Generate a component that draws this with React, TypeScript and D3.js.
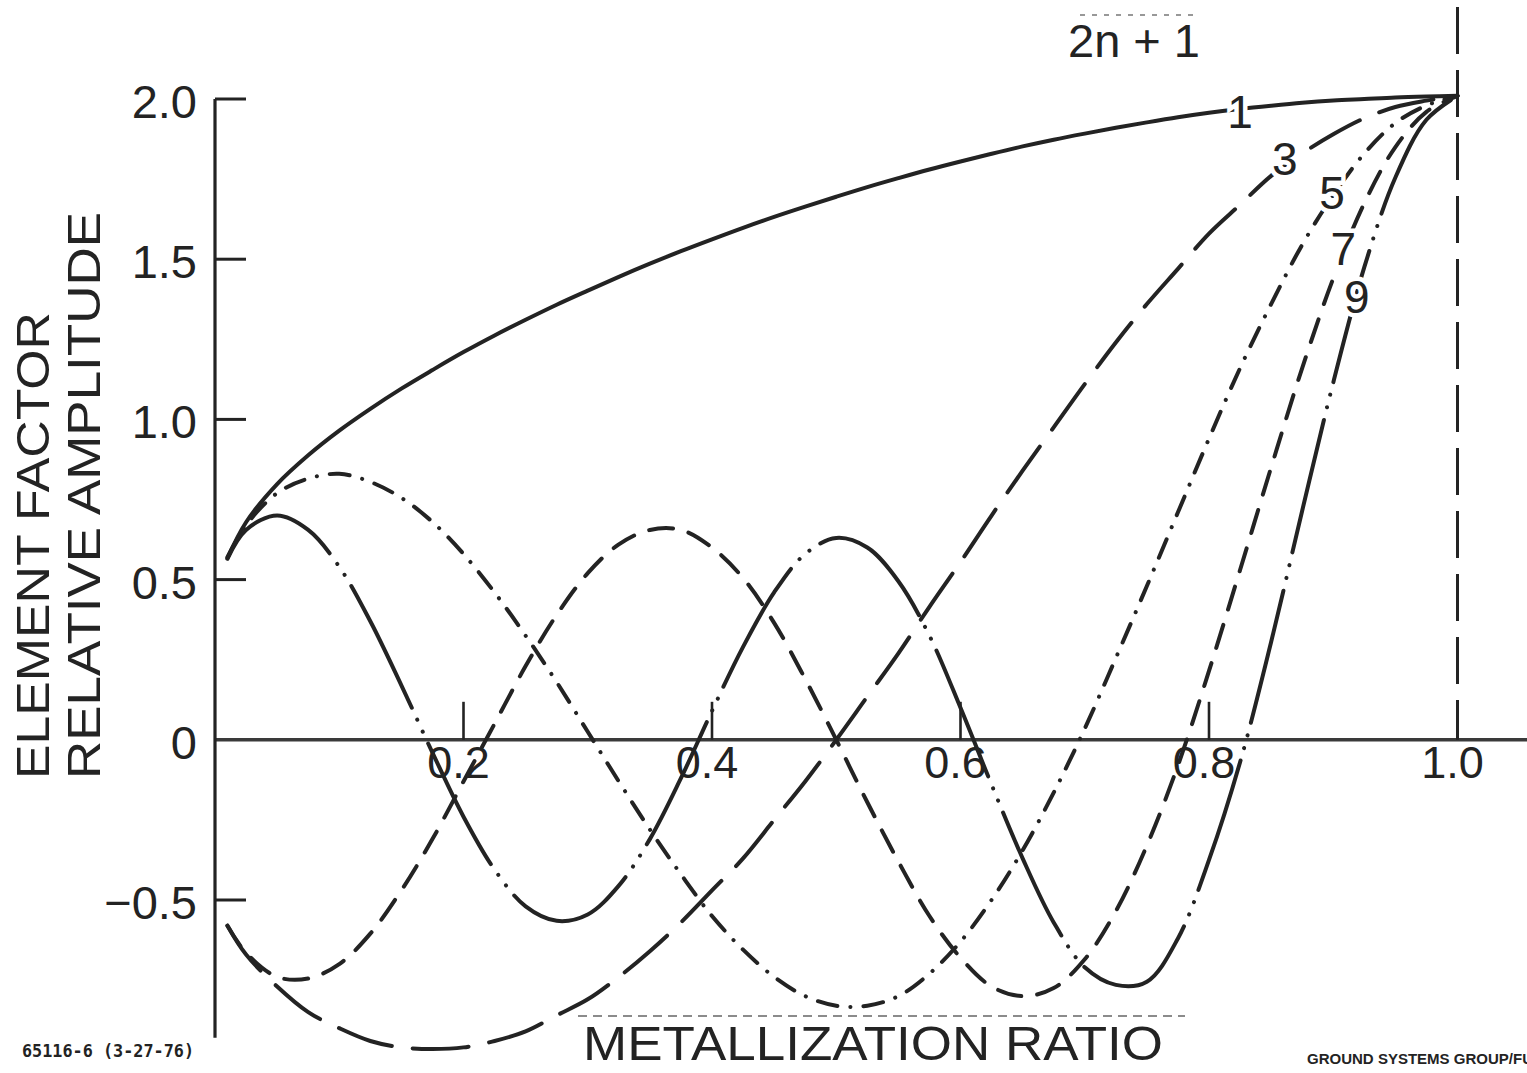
import React from "react";
import * as d3 from "d3";

// metallization ratio (x) shared by all curves
const metallization = [
  0.01, 0.025, 0.05, 0.075, 0.1, 0.125, 0.15, 0.175, 0.2, 0.225,
  0.25, 0.275, 0.3, 0.325, 0.35, 0.375, 0.4, 0.425, 0.45, 0.475,
  0.5, 0.525, 0.55, 0.575, 0.6, 0.625, 0.65, 0.675, 0.7, 0.725,
  0.75, 0.775, 0.8, 0.825, 0.85, 0.875, 0.9, 0.925, 0.95, 0.975,
  1.0,
];

// element factor, one array per harmonic 2n+1
const harmonic1 = [
  0.567, 0.679, 0.798, 0.888, 0.965, 1.033, 1.096, 1.154, 1.21, 1.262,
  1.311, 1.358, 1.402, 1.445, 1.486, 1.525, 1.562, 1.598, 1.632, 1.664,
  1.695, 1.725, 1.753, 1.78, 1.805, 1.829, 1.852, 1.873, 1.892, 1.91,
  1.927, 1.943, 1.957, 1.969, 1.979, 1.988, 1.995, 2.0, 2.005, 2.008,
  2.01,
];
const harmonic3 = [
  -0.58, -0.67, -0.77, -0.85, -0.9, -0.94, -0.96, -0.965, -0.96, -0.94,
  -0.91, -0.86, -0.81, -0.74, -0.66, -0.57, -0.47, -0.37, -0.25, -0.13,
  0.0, 0.135, 0.27, 0.415, 0.555, 0.7, 0.84, 0.975, 1.11, 1.24,
  1.36, 1.47, 1.58, 1.67, 1.76, 1.83, 1.89, 1.94, 1.975, 1.995,
  2.01,
];
const harmonic5 = [
  0.57, 0.67, 0.77, 0.815, 0.83, 0.805, 0.755, 0.68, 0.58, 0.46,
  0.325, 0.18, 0.025, -0.13, -0.28, -0.42, -0.55, -0.655, -0.74, -0.8,
  -0.83, -0.83, -0.8, -0.73, -0.63, -0.5, -0.345, -0.165, 0.035, 0.255,
  0.48, 0.71, 0.94, 1.16, 1.36, 1.545, 1.7, 1.83, 1.925, 1.98,
  2.01,
];
const harmonic7 = [
  -0.58, -0.665, -0.74, -0.745, -0.7, -0.605, -0.47, -0.31, -0.13, 0.05,
  0.23, 0.39, 0.52, 0.61, 0.655, 0.655, 0.6, 0.505, 0.365, 0.19,
  0.0, -0.195, -0.38, -0.55, -0.68, -0.77, -0.8, -0.775, -0.685, -0.535,
  -0.33, -0.08, 0.215, 0.53, 0.85, 1.16, 1.44, 1.675, 1.85, 1.96,
  2.01,
];
const harmonic9 = [
  0.565, 0.655, 0.7, 0.655, 0.54, 0.37, 0.17, -0.04, -0.24, -0.405,
  -0.52, -0.565, -0.545, -0.455, -0.31, -0.12, 0.09, 0.29, 0.46, 0.58,
  0.63, 0.6, 0.495, 0.325, 0.1, -0.14, -0.37, -0.57, -0.71, -0.765,
  -0.755, -0.62, -0.375, -0.07, 0.305, 0.715, 1.115, 1.475, 1.755, 1.935,
  2.01,
];

const curveNames = ["1", "3", "5", "7", "9"];
// where each curve's number sits along it: [ratio, amplitude]
const labelAt = [
  [0.825, 1.96],
  [0.861, 1.816],
  [0.899, 1.707],
  [0.908, 1.535],
  [0.919, 1.385],
];

const xTicks = [0.2, 0.4, 0.6, 0.8, 1.0];
const yTicks = [2.0, 1.5, 1.0, 0.5, 0, -0.5];

const W = 1527;
const H = 1073;
const ink = "#232323";
const font = "'Liberation Sans', Arial, Helvetica, sans-serif";

// line style for each harmonic
const dashes: Record<string, string | undefined> = {
  "1": undefined,
  "3": "56 21",
  "5": "20 13 0.1 13",
  "7": "24 16",
  "9": "136 13 0.1 13 0.1 13",
};

export default function App() {
  const x = d3.scaleLinear().domain([0, 1]).range([215, 1457.5]);
  const y = d3.scaleLinear().domain([-0.5, 2]).range([900, 99]);

  const allSeries = [harmonic1, harmonic3, harmonic5, harmonic7, harmonic9];

  const line = d3
    .line<number>()
    .x((_, i) => x(metallization[i]))
    .y((d) => y(d))
    .curve(d3.curveCatmullRom.alpha(0.5));

  const fmt = d3.format(".1f");
  const yLabel = (v: number) => (v === 0 ? "0" : fmt(v));

  const axisBottom = y(-0.93);

  return (
    <svg
      width={W}
      height={H}
      viewBox={`0 0 ${W} ${H}`}
      style={{ position: "absolute", left: 0, top: 0, background: "#fff", display: "block" }}
      fontFamily={font}
    >
      <rect x={0} y={0} width={W} height={H} fill="#fff" />

      {/* zero line */}
      <line x1={x(0)} x2={W} y1={y(0)} y2={y(0)} stroke="#3a3a3a" strokeWidth={3.5} />
      {/* y axis */}
      <line x1={x(0)} x2={x(0)} y1={y(2)} y2={axisBottom} stroke={ink} strokeWidth={3.2} />
      {yTicks
        .filter((v) => v !== 0)
        .map((v) => (
          <line key={"yt" + v} x1={x(0)} x2={x(0) + 31} y1={y(v)} y2={y(v)} stroke={ink} strokeWidth={3} />
        ))}
      {yTicks.map((v) => (
        <text
          key={"yl" + v}
          x={197}
          y={y(v) + 19}
          textAnchor="end"
          fontSize={47}
          fill={ink}
        >
          {yLabel(v)}
        </text>
      ))}

      {/* x ticks */}
      {xTicks
        .filter((v) => v < 1)
        .map((v) => (
          <line key={"xt" + v} x1={x(v)} x2={x(v)} y1={y(0)} y2={y(0) - 38} stroke={ink} strokeWidth={2.6} />
        ))}
      {xTicks.map((v) => (
        <text key={"xl" + v} x={x(v) - 5} y={778} textAnchor="middle" fontSize={45} fill={ink}>
          {fmt(v)}
        </text>
      ))}

      {/* dashed limit at ratio 1.0 */}
      <line
        x1={x(1)}
        x2={x(1)}
        y1={7}
        y2={y(0)}
        stroke={ink}
        strokeWidth={3}
        strokeDasharray="47 16"
      />

      {/* curves */}
      {allSeries.map((vals, k) => (
        <path
          key={"c" + k}
          d={line(vals) || ""}
          fill="none"
          stroke={ink}
          strokeWidth={4}
          strokeLinecap="round"
          strokeLinejoin="round"
          strokeDasharray={dashes[curveNames[k]]}
        />
      ))}

      {/* curve numbers */}
      {curveNames.map((name, k) => (
        <text
          key={"n" + name}
          x={x(labelAt[k][0])}
          y={y(labelAt[k][1])}
          dy="0.36em"
          textAnchor="middle"
          fontSize={46}
          fill={ink}
          stroke="#fff"
          strokeWidth={9}
          paintOrder="stroke"
        >
          {name}
        </text>
      ))}

      {/* header of the curve numbers */}
      <line x1={1080} x2={1200} y1={15} y2={15} stroke="#777" strokeWidth={1.5} strokeDasharray="5 7" />
      <text x={1134} y={57} textAnchor="middle" fontSize={47} fill={ink}>
        2n + 1
      </text>

      {/* axis titles */}
      <text
        transform="translate(49,779) rotate(-90)"
        fontSize={47}
        fill={ink}
        textLength={467}
        lengthAdjust="spacingAndGlyphs"
      >
        ELEMENT FACTOR
      </text>
      <text
        transform="translate(100,779) rotate(-90)"
        fontSize={47}
        fill={ink}
        textLength={567}
        lengthAdjust="spacingAndGlyphs"
      >
        RELATIVE AMPLITUDE
      </text>

      <line x1={578} x2={1185} y1={1016} y2={1016} stroke="#666" strokeWidth={1.5} strokeDasharray="9 6" />
      <text
        x={583}
        y={1060}
        fontSize={48}
        fill={ink}
        textLength={580}
        lengthAdjust="spacingAndGlyphs"
      >
        METALLIZATION RATIO
      </text>

      <text
        x={22}
        y={1057}
        fontSize={17}
        fontWeight="bold"
        fontFamily="'DejaVu Sans Mono', 'Liberation Mono', monospace"
        fill={ink}
        textLength={172}
        lengthAdjust="spacingAndGlyphs"
      >
        65116-6 (3-27-76)
      </text>
      <text
        x={1307}
        y={1064}
        fontSize={14}
        fontWeight="bold"
        fill={ink}
        textLength={226}
        lengthAdjust="spacingAndGlyphs"
      >
        GROUND SYSTEMS GROUP/FU
      </text>
    </svg>
  );
}
